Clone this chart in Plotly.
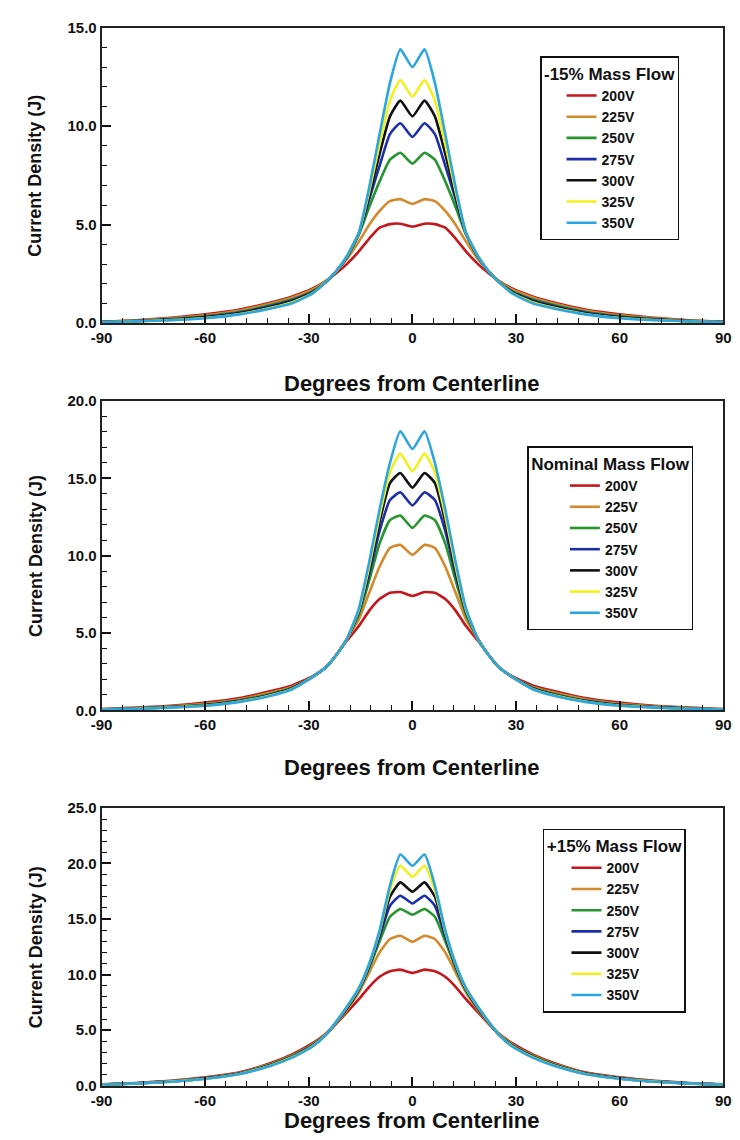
import plotly.graph_objects as go

# ---------------- data ----------------
angles = [-90, -80, -70, -60, -50, -41, -35, -29, -25, -22, -19, -15.5, -12.5, -9.5, -6.5, -3.5, 0,
          3.5, 6.5, 9.5, 12.5, 15.5, 19, 22, 25, 29, 35, 41, 50, 60, 70, 80, 90]

voltages = ["200V", "225V", "250V", "275V", "300V", "325V", "350V"]

# -15% Mass Flow
p1_200 = [0.08, 0.15, 0.28, 0.45, 0.70, 1.05, 1.35, 1.75, 2.15, 2.55, 3.00, 3.65, 4.30, 4.85, 5.03, 5.05, 4.90,
          5.05, 5.03, 4.85, 4.30, 3.65, 3.00, 2.55, 2.15, 1.75, 1.35, 1.05, 0.70, 0.45, 0.28, 0.15, 0.08]
p1_225 = [0.07, 0.14, 0.25, 0.40, 0.65, 1.00, 1.30, 1.70, 2.15, 2.65, 3.25, 4.15, 5.00, 5.70, 6.20, 6.30, 6.05,
          6.30, 6.20, 5.70, 5.00, 4.15, 3.25, 2.65, 2.15, 1.70, 1.30, 1.00, 0.65, 0.40, 0.25, 0.14, 0.07]
p1_250 = [0.06, 0.12, 0.22, 0.35, 0.58, 0.92, 1.20, 1.62, 2.10, 2.65, 3.35, 4.50, 5.90, 7.20, 8.30, 8.65, 8.10,
          8.65, 8.30, 7.20, 5.90, 4.50, 3.35, 2.65, 2.10, 1.62, 1.20, 0.92, 0.58, 0.35, 0.22, 0.12, 0.06]
p1_275 = [0.06, 0.11, 0.20, 0.32, 0.54, 0.87, 1.15, 1.58, 2.10, 2.65, 3.35, 4.55, 6.30, 8.00, 9.60, 10.15, 9.45,
          10.15, 9.60, 8.00, 6.30, 4.55, 3.35, 2.65, 2.10, 1.58, 1.15, 0.87, 0.54, 0.32, 0.20, 0.11, 0.06]
p1_300 = [0.05, 0.10, 0.18, 0.30, 0.50, 0.82, 1.10, 1.55, 2.10, 2.65, 3.38, 4.60, 6.50, 8.60, 10.50, 11.30, 10.50,
          11.30, 10.50, 8.60, 6.50, 4.60, 3.38, 2.65, 2.10, 1.55, 1.10, 0.82, 0.50, 0.30, 0.18, 0.10, 0.05]
p1_325 = [0.05, 0.10, 0.16, 0.27, 0.47, 0.78, 1.05, 1.52, 2.10, 2.65, 3.40, 4.60, 6.70, 9.10, 11.30, 12.35, 11.50,
          12.35, 11.30, 9.10, 6.70, 4.60, 3.40, 2.65, 2.10, 1.52, 1.05, 0.78, 0.47, 0.27, 0.16, 0.10, 0.05]
p1_350 = [0.05, 0.10, 0.15, 0.25, 0.45, 0.75, 1.00, 1.50, 2.10, 2.65, 3.40, 4.60, 6.90, 9.60, 12.20, 13.90, 13.00,
          13.90, 12.20, 9.60, 6.90, 4.60, 3.40, 2.65, 2.10, 1.50, 1.00, 0.75, 0.45, 0.25, 0.15, 0.10, 0.05]

# Nominal Mass Flow
p2_200 = [0.08, 0.18, 0.30, 0.50, 0.80, 1.25, 1.60, 2.20, 2.80, 3.60, 4.50, 5.45, 6.45, 7.20, 7.60, 7.65, 7.40,
          7.65, 7.60, 7.20, 6.45, 5.45, 4.50, 3.60, 2.80, 2.20, 1.60, 1.25, 0.80, 0.50, 0.30, 0.18, 0.08]
p2_225 = [0.07, 0.15, 0.26, 0.43, 0.72, 1.15, 1.50, 2.15, 2.80, 3.60, 4.60, 5.90, 7.60, 9.30, 10.50, 10.70, 10.05,
          10.70, 10.50, 9.30, 7.60, 5.90, 4.60, 3.60, 2.80, 2.15, 1.50, 1.15, 0.72, 0.43, 0.26, 0.15, 0.07]
p2_250 = [0.06, 0.13, 0.23, 0.38, 0.65, 1.08, 1.45, 2.15, 2.80, 3.60, 4.60, 6.20, 8.40, 10.80, 12.30, 12.60, 11.80,
          12.60, 12.30, 10.80, 8.40, 6.20, 4.60, 3.60, 2.80, 2.15, 1.45, 1.08, 0.65, 0.38, 0.23, 0.13, 0.06]
p2_275 = [0.06, 0.12, 0.21, 0.35, 0.62, 1.03, 1.42, 2.15, 2.80, 3.60, 4.60, 6.35, 8.80, 11.60, 13.60, 14.10, 13.25,
          14.10, 13.60, 11.60, 8.80, 6.35, 4.60, 3.60, 2.80, 2.15, 1.42, 1.03, 0.62, 0.35, 0.21, 0.12, 0.06]
p2_300 = [0.05, 0.11, 0.20, 0.33, 0.59, 1.00, 1.40, 2.15, 2.80, 3.60, 4.60, 6.45, 9.10, 12.20, 14.70, 15.35, 14.40,
          15.35, 14.70, 12.20, 9.10, 6.45, 4.60, 3.60, 2.80, 2.15, 1.40, 1.00, 0.59, 0.33, 0.20, 0.11, 0.05]
p2_325 = [0.05, 0.10, 0.19, 0.31, 0.57, 0.97, 1.37, 2.15, 2.80, 3.60, 4.60, 6.50, 9.30, 12.60, 15.40, 16.60, 15.45,
          16.60, 15.40, 12.60, 9.30, 6.50, 4.60, 3.60, 2.80, 2.15, 1.37, 0.97, 0.57, 0.31, 0.19, 0.10, 0.05]
p2_350 = [0.05, 0.10, 0.18, 0.30, 0.55, 0.95, 1.35, 2.15, 2.80, 3.60, 4.60, 6.60, 9.60, 13.00, 16.00, 18.05, 16.90,
          18.05, 16.00, 13.00, 9.60, 6.60, 4.60, 3.60, 2.80, 2.15, 1.35, 0.95, 0.55, 0.30, 0.18, 0.10, 0.05]

# +15% Mass Flow
p3_200 = [0.12, 0.25, 0.45, 0.75, 1.20, 2.05, 2.80, 3.80, 4.70, 5.60, 6.60, 7.80, 8.90, 9.80, 10.30, 10.45, 10.15,
          10.45, 10.30, 9.80, 8.90, 7.80, 6.60, 5.60, 4.70, 3.80, 2.80, 2.05, 1.20, 0.75, 0.45, 0.25, 0.12]
p3_225 = [0.11, 0.22, 0.42, 0.70, 1.15, 1.95, 2.70, 3.70, 4.65, 5.65, 6.80, 8.40, 10.20, 12.00, 13.20, 13.50, 12.95,
          13.50, 13.20, 12.00, 10.20, 8.40, 6.80, 5.65, 4.65, 3.70, 2.70, 1.95, 1.15, 0.70, 0.42, 0.22, 0.11]
p3_250 = [0.11, 0.21, 0.40, 0.68, 1.12, 1.90, 2.65, 3.65, 4.62, 5.70, 6.90, 8.60, 10.60, 13.00, 15.20, 15.90, 15.40,
          15.90, 15.20, 13.00, 10.60, 8.60, 6.90, 5.70, 4.62, 3.65, 2.65, 1.90, 1.12, 0.68, 0.40, 0.21, 0.11]
p3_275 = [0.10, 0.21, 0.39, 0.66, 1.10, 1.87, 2.60, 3.60, 4.60, 5.72, 6.95, 8.65, 10.75, 13.40, 16.20, 17.10, 16.40,
          17.10, 16.20, 13.40, 10.75, 8.65, 6.95, 5.72, 4.60, 3.60, 2.60, 1.87, 1.10, 0.66, 0.39, 0.21, 0.10]
p3_300 = [0.10, 0.20, 0.38, 0.65, 1.08, 1.84, 2.57, 3.57, 4.60, 5.75, 7.00, 8.70, 10.85, 13.70, 17.00, 18.30, 17.45,
          18.30, 17.00, 13.70, 10.85, 8.70, 7.00, 5.75, 4.60, 3.57, 2.57, 1.84, 1.08, 0.65, 0.38, 0.20, 0.10]
p3_325 = [0.10, 0.20, 0.37, 0.63, 1.06, 1.82, 2.54, 3.54, 4.60, 5.78, 7.05, 8.75, 10.95, 13.85, 17.60, 19.80, 18.80,
          19.80, 17.60, 13.85, 10.95, 8.75, 7.05, 5.78, 4.60, 3.54, 2.54, 1.82, 1.06, 0.63, 0.37, 0.20, 0.10]
p3_350 = [0.10, 0.20, 0.36, 0.62, 1.05, 1.80, 2.50, 3.50, 4.60, 5.80, 7.10, 8.80, 11.00, 14.00, 18.00, 20.80, 19.80,
          20.80, 18.00, 14.00, 11.00, 8.80, 7.10, 5.80, 4.60, 3.50, 2.50, 1.80, 1.05, 0.62, 0.36, 0.20, 0.10]

panel_titles = ["-15% Mass Flow", "Nominal Mass Flow", "+15% Mass Flow"]
panel_series = [
    [p1_200, p1_225, p1_250, p1_275, p1_300, p1_325, p1_350],
    [p2_200, p2_225, p2_250, p2_275, p2_300, p2_325, p2_350],
    [p3_200, p3_225, p3_250, p3_275, p3_300, p3_325, p3_350],
]
y_max = [15, 20, 25]
y_tickvals = [[0, 5, 10, 15], [0, 5, 10, 15, 20], [0, 5, 10, 15, 20, 25]]
y_ticktext = [["0.0", "5.0", "10.0", "15.0"],
              ["0.0", "5.0", "10.0", "15.0", "20.0"],
              ["0.0", "5.0", "10.0", "15.0", "20.0", "25.0"]]
x_tickvals = [-90, -60, -30, 0, 30, 60, 90]
x_ticktext = ["-90", "-60", "-30", "0", "30", "60", "90"]
x_title = "Degrees from Centerline"
y_title = "Current Density (J)"

# ---------------- style ----------------
W, H = 740, 1140
colors = ["#c4161c", "#d4892c", "#25962c", "#1c2ea8", "#111111", "#f4f01c", "#2ba6e0"]
FONT = "Liberation Sans, Arial, Helvetica, sans-serif"

# plot areas in pixels (left, right, top, bottom)
areas = [(93, 731, 19, 319), (93, 731, 398, 712), (93, 731, 811, 1093)]
legend_pos = [(543, 48), (530, 444), (546, 832)]
legend_indent = [20, 36, 22]
xtitle_y = [380, 770, 1128]

fig = go.Figure()
for i in range(3):
    sfx = "" if i == 0 else str(i + 1)
    for v, name, col in zip(panel_series[i], voltages, colors):
        fig.add_trace(go.Scatter(
            x=angles, y=v, name=name, mode="lines",
            line=dict(color=col, width=2.6, shape="spline", smoothing=0.5),
            xaxis="x" + sfx, yaxis="y" + sfx, legend="legend" + sfx,
        ))
    l, r, t, b = areas[i]
    xa = dict(
        domain=[l / W, r / W], range=[-90, 90], anchor="y" + sfx,
        tickmode="array", tickvals=x_tickvals, ticktext=x_ticktext,
        ticks="inside", ticklen=9, tickwidth=1.5, tickcolor="#111",
        minor=dict(ticks="inside", ticklen=5, tickwidth=1.2, tickcolor="#111", dtick=6, tick0=-90, showgrid=False),
        showline=True, linecolor="#222", linewidth=1.8, mirror=True,
        showgrid=False, zeroline=False, ticklabeloverflow="allow",
        tickfont=dict(family=FONT, size=15, color="#111", weight="bold"),
    )
    ya = dict(
        domain=[1 - b / H, 1 - t / H], range=[0, y_max[i]], anchor="x" + sfx,
        tickmode="array", tickvals=y_tickvals[i], ticktext=y_ticktext[i],
        ticks="inside", ticklen=9, tickwidth=1.5, tickcolor="#111",
        minor=dict(ticks="inside", ticklen=5, tickwidth=1.2, tickcolor="#111", dtick=1, tick0=0, showgrid=False),
        showline=True, linecolor="#222", linewidth=1.8, mirror=True,
        showgrid=False, zeroline=False, ticklabeloverflow="allow",
        tickfont=dict(family=FONT, size=15, color="#111", weight="bold"),
    )
    fig.update_layout(**{"xaxis" + sfx: xa, "yaxis" + sfx: ya})
    lx, ly = legend_pos[i]
    fig.update_layout(**{"legend" + sfx: dict(
        x=lx / W, y=1 - ly / H, xanchor="left", yanchor="top",
        bgcolor="white", bordercolor="#111", borderwidth=1.5,
        font=dict(family=FONT, size=14, color="#111", weight="bold"),
        title=dict(text=panel_titles[i], side="top center",
                   font=dict(family=FONT, size=17, color="#111", weight="bold")),
        indentation=legend_indent[i],
        itemclick=False, itemdoubleclick=False,
    )})
    fig.add_annotation(
        text=y_title, textangle=-90, x=25 / W, y=1 - (t + b) / 2 / H,
        xref="paper", yref="paper", showarrow=False, xanchor="center", yanchor="middle",
        font=dict(family=FONT, size=18, color="#111", weight="bold"))
    fig.add_annotation(
        text=x_title, x=412 / W, y=1 - xtitle_y[i] / H,
        xref="paper", yref="paper", showarrow=False, xanchor="center", yanchor="middle",
        font=dict(family=FONT, size=22, color="#111", weight="bold"))

fig.update_layout(
    width=W, height=H, margin=dict(l=0, r=0, t=0, b=0),
    paper_bgcolor="white", plot_bgcolor="white", showlegend=True,
)

fig.write_html("out.html", config={"displayModeBar": False},
               post_script="document.body.style.margin='0px';document.body.style.padding='0px';")
